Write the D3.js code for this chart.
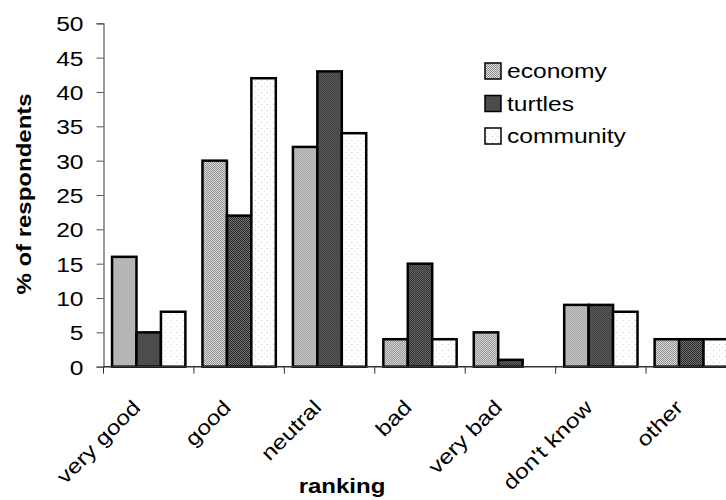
<!DOCTYPE html>
<html>
<head>
<meta charset="utf-8">
<script src="https://cdn.jsdelivr.net/npm/d3@7/dist/d3.min.js"></script>
<style>
  html, body { margin: 0; padding: 0; background: #fff; }
  svg { display: block; }
  text { font-family: "Liberation Sans", Arial, Helvetica, sans-serif; fill: #000; }
</style>
</head>
<body>
<svg id="chart" width="726" height="500"></svg>
<script>
// Survey responses: share of respondents per ranking, by topic
const categories = ["very good", "good", "neutral", "bad", "very bad", "don't know", "other"];
const seriesNames = ["economy", "turtles", "community"];
const economy   = [16, 30, 32, 4, 5, 9, 4];
const turtles   = [5, 22, 43, 15, 1, 9, 4];
const community = [8, 42, 34, 4, 0, 8, 4];
const yTicks = [0, 5, 10, 15, 20, 25, 30, 35, 40, 45, 50];

const seriesValues = [economy, turtles, community];
const rows = categories.map((c, i) => ({
  category: c,
  values: seriesNames.map((s, k) => ({ key: s, value: seriesValues[k][i] }))
}));

const svg = d3.select("#chart");
const stretch = "scale(1.2,1)";
const fontSize = 20.5;

// plot frame (right edge runs past the visible page)
const plotLeft = 103.5, plotRight = 736.5, plotTop = 23.3, plotBottom = 366.7;

// textured fills
const defs = svg.append("defs");
function dither(id, a, b) {
  const p = defs.append("pattern").attr("id", id)
    .attr("patternUnits", "userSpaceOnUse").attr("width", 4).attr("height", 4);
  p.append("rect").attr("width", 4).attr("height", 4).attr("fill", a);
  [[0,0],[2,0],[1,1],[3,1],[0,2],[2,2],[1,3],[3,3]].forEach(([x, y]) =>
    p.append("rect").attr("x", x).attr("y", y).attr("width", 1).attr("height", 1).attr("fill", b));
}
dither("fill-economy", "#e2e2e2", "#8a8a8a");
dither("fill-turtles", "#777777", "#222222");
(function () {
  const p = defs.append("pattern").attr("id", "fill-community")
    .attr("patternUnits", "userSpaceOnUse").attr("width", 6).attr("height", 6);
  p.append("rect").attr("width", 6).attr("height", 6).attr("fill", "#ffffff");
  p.append("rect").attr("x", 1).attr("y", 2).attr("width", 1).attr("height", 1).attr("fill", "#c8c8c8");
  p.append("rect").attr("x", 4).attr("y", 5).attr("width", 1).attr("height", 1).attr("fill", "#dcdcdc");
})();
const fills = { economy: "url(#fill-economy)", turtles: "url(#fill-turtles)", community: "url(#fill-community)" };

const x0 = d3.scaleBand().domain(categories).range([plotLeft, plotRight]).padding(0);
const x1 = d3.scaleBand().domain(seriesNames).range([0, x0.bandwidth()]).paddingInner(0).paddingOuter(0.35);
const y = d3.scaleLinear().domain([0, 50]).range([plotBottom, plotTop]);

// bars
const groups = svg.append("g").selectAll("g").data(rows).join("g")
  .attr("transform", d => `translate(${x0(d.category)},0)`);
groups.selectAll("rect").data(d => d.values.filter(v => v.value > 0)).join("rect")
  .attr("x", d => x1(d.key))
  .attr("y", d => y(d.value))
  .attr("width", x1.bandwidth())
  .attr("height", d => y(0) - y(d.value))
  .attr("fill", d => fills[d.key])
  .attr("stroke", "#000")
  .attr("stroke-width", 2.5);

// y axis
const yAxis = svg.append("g").attr("transform", `translate(${plotLeft},0)`)
  .call(d3.axisLeft(y).tickValues(yTicks).tickSize(7).tickPadding(0).tickFormat(d3.format("d")));
yAxis.select(".domain").attr("stroke", "#555").attr("stroke-width", 1.2);
yAxis.selectAll(".tick line").attr("stroke", "#555");
yAxis.selectAll(".tick text")
  .attr("x", null).attr("dy", null)
  .attr("text-anchor", "end")
  .attr("font-size", fontSize)
  .attr("transform", `translate(-20,7.5) ${stretch}`);

// x axis
const xAxis = svg.append("g").attr("transform", `translate(0,${plotBottom})`);
xAxis.append("line").attr("x1", plotLeft).attr("x2", plotRight).attr("stroke", "#333").attr("stroke-width", 1.5);
const bounds = categories.map(c => x0(c)).concat([plotRight]);
xAxis.selectAll("line.tick").data(bounds).join("line").attr("class", "tick")
  .attr("x1", d => d).attr("x2", d => d).attr("y1", 0).attr("y2", 7)
  .attr("stroke", "#333");
xAxis.selectAll("text").data(categories).join("text")
  .attr("text-anchor", "end")
  .attr("font-size", fontSize)
  .attr("transform", d => `translate(${x0(d) + x0.bandwidth() / 2 - 7},42) rotate(-45) ${stretch}`)
  .text(d => d);

// axis titles
svg.append("text")
  .attr("text-anchor", "middle").attr("font-weight", "bold").attr("font-size", 20)
  .attr("transform", `translate(342,493) ${stretch}`)
  .text("ranking");
svg.append("text")
  .attr("text-anchor", "middle").attr("font-weight", "bold").attr("font-size", 20)
  .attr("transform", `translate(31,194) rotate(-90) ${stretch}`)
  .text("% of respondents");

// legend
const legend = svg.append("g").attr("transform", "translate(485,63)");
const items = legend.selectAll("g").data(seriesNames).join("g")
  .attr("transform", (d, i) => `translate(0,${i * 32.5})`);
items.append("rect").attr("width", 16).attr("height", 16)
  .attr("fill", d => fills[d]).attr("stroke", "#000").attr("stroke-width", 1.5);
items.append("text").attr("font-size", fontSize)
  .attr("transform", `translate(22,15) ${stretch}`)
  .text(d => d);
</script>
</body>
</html>
